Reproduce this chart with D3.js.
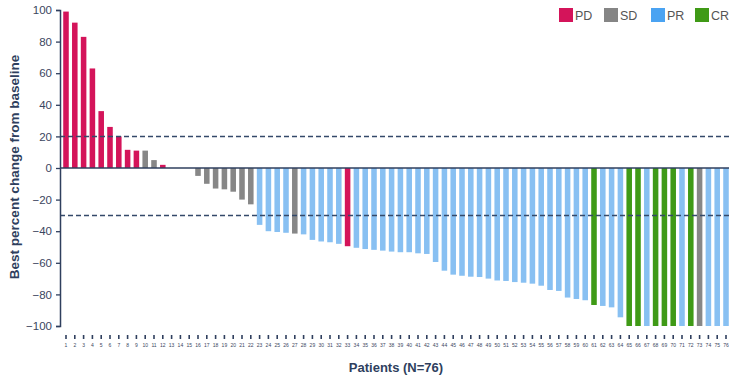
<!DOCTYPE html>
<html>
<head>
<meta charset="utf-8">
<script src="https://cdn.jsdelivr.net/npm/d3@7"></script>
<style>
  html, body { margin: 0; padding: 0; background: #fff; }
  svg { display: block; font-family: "Liberation Sans", Arial, sans-serif; }
</style>
</head>
<body>
<svg id="chart" width="729" height="380"></svg>
<script>
// ---- data ----
const patients = d3.range(1, 77);
const changes = [
  99, 92, 83, 63, 36, 26, 20, 11.5, 11, 11, 5, 2,
  0, 0, 0,
  -5, -10, -13, -13.5, -15, -20, -23,
  -36, -40, -40.5, -41, -41.5, -42, -45.5, -46.5, -47, -48,
  -49.5, -50.5, -51.3, -51.8, -52.3, -52.9, -53.3, -53.3, -54, -54.4,
  -59.5, -65, -67.5, -68.2, -68.8, -69, -70, -71.2, -71.5, -72.2,
  -72.6, -73.2, -74.5, -77.2, -77.8, -82, -82.9, -83.7, -86.7, -87.3,
  -88.2, -94.5,
  -100, -100, -100, -100, -100, -100, -100, -100, -100, -100, -100, -100
];
const responses = [
  "PD","PD","PD","PD","PD","PD","PD","PD","PD","SD","SD","PD",
  "SD","SD","SD",
  "SD","SD","SD","SD","SD","SD","SD",
  "PR","PR","PR","PR","SD","PR","PR","PR","PR","PR",
  "PD","PR","PR","PR","PR","PR","PR","PR","PR","PR",
  "PR","PR","PR","PR","PR","PR","PR","PR","PR","PR",
  "PR","PR","PR","PR","PR","PR","PR","PR","CR","PR",
  "PR","PR",
  "CR","CR","PR","CR","CR","CR","PR","CR","SD","PR","PR","PR"
];
const legendKeys = ["PD", "SD", "PR", "CR"];
const yTicks = [100, 80, 60, 40, 20, 0, -20, -40, -60, -80, -100];
const thresholds = [20, -30];

// ---- styles ----
const barColor = { PD: "#d4145a", SD: "#878787", PR: "#88c0f2", CR: "#3f9a16" };
const swatchColor = { PD: "#d4145a", SD: "#858585", PR: "#4aa3f2", CR: "#3f9a16" };
const ink = "#2f3f5e";

const svg = d3.select("#chart");

const x = d3.scaleBand()
  .domain(patients)
  .range([61.6, 730.4])
  .paddingInner(0.37)
  .paddingOuter(0.185);

const y = d3.scaleLinear().domain([-100, 100]).range([326, 10]);

// bars
const data = patients.map((p, i) => ({ p, v: changes[i], r: responses[i] }));
svg.append("g").selectAll("rect")
  .data(data)
  .join("rect")
  .attr("x", d => x(d.p))
  .attr("width", x.bandwidth())
  .attr("y", d => Math.min(y(d.v), y(0)))
  .attr("height", d => Math.abs(y(d.v) - y(0)))
  .attr("fill", d => barColor[d.r]);

// threshold dashed lines
svg.append("g").selectAll("line")
  .data(thresholds)
  .join("line")
  .attr("x1", 60).attr("x2", 729)
  .attr("y1", d => y(d)).attr("y2", d => y(d))
  .attr("stroke", "#34496a")
  .attr("stroke-width", 1.5)
  .attr("stroke-dasharray", "5,3");

// zero line
svg.append("line")
  .attr("x1", 60).attr("x2", 729)
  .attr("y1", y(0)).attr("y2", y(0))
  .attr("stroke", ink).attr("stroke-width", 1.5);

// y axis
const yAxis = svg.append("g")
  .attr("transform", "translate(60,0)")
  .call(d3.axisLeft(y).tickValues(yTicks).tickSize(4).tickPadding(4));
yAxis.select(".domain").attr("stroke", ink).attr("stroke-width", 1.5);
yAxis.selectAll(".tick line").attr("stroke", ink).attr("stroke-width", 1.3);
yAxis.selectAll(".tick text")
  .attr("fill", "#3a4660")
  .style("font-size", "11.5px");

// x axis (patient numbers)
const xAxis = svg.append("g")
  .attr("transform", "translate(0,335)")
  .call(d3.axisBottom(x).tickSize(4).tickPadding(4));
xAxis.select(".domain").remove();
xAxis.selectAll(".tick line").attr("stroke", ink).attr("stroke-width", 1.6);
xAxis.selectAll(".tick text")
  .attr("fill", "#3a4660")
  .style("font-size", "5px");

// axis titles
svg.append("text")
  .attr("transform", "translate(19,167) rotate(-90)")
  .attr("text-anchor", "middle")
  .attr("fill", ink)
  .style("font-size", "13.5px")
  .style("font-weight", "bold")
  .text("Best percent change from baseline");

svg.append("text")
  .attr("x", 396).attr("y", 372)
  .attr("text-anchor", "middle")
  .attr("fill", ink)
  .style("font-size", "13px")
  .style("font-weight", "bold")
  .text("Patients (N=76)");

// legend
const legendX = [559, 604, 651, 695];
const lg = svg.append("g").selectAll("g")
  .data(legendKeys)
  .join("g")
  .attr("transform", (d, i) => `translate(${legendX[i]},8)`);
lg.append("rect")
  .attr("width", 14).attr("height", 14)
  .attr("fill", d => swatchColor[d]);
lg.append("text")
  .attr("x", 16).attr("y", 12)
  .attr("fill", "#555")
  .style("font-size", "12.5px")
  .text(d => d);
</script>
</body>
</html>
